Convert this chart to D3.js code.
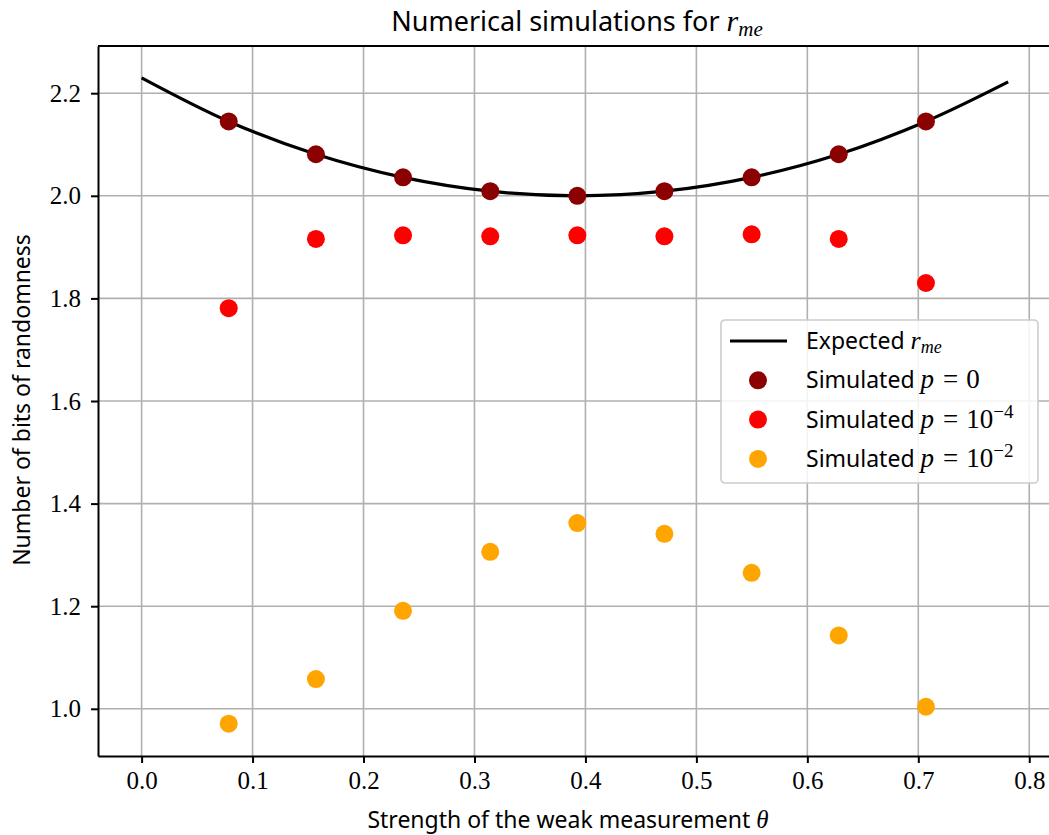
<!DOCTYPE html>
<html>
<head>
<meta charset="utf-8">
<script src="https://cdn.jsdelivr.net/npm/d3@7"></script>
<style>
  body { margin: 0; background: #fff; }
  .sans { font-family: "Noto Sans", "DejaVu Sans", sans-serif; }
  .serif { font-family: "Liberation Serif", "DejaVu Serif", serif; }
</style>
</head>
<body>
<div id="chart"></div>
<script>
// theta values of the simulations
var thetas = [0.0785, 0.1571, 0.2356, 0.3142, 0.3927, 0.4712, 0.5498, 0.6283, 0.7069]

// expected r_me curve
var curveTheta = [0.0, 0.0785, 0.1571, 0.2356, 0.3142, 0.3927, 0.4712, 0.5498, 0.6283, 0.7069, 0.781]
var curveValue = [2.230, 2.145, 2.081, 2.036, 2.009, 2.000, 2.009, 2.036, 2.081, 2.145, 2.222]

var simP0 = [2.145, 2.081, 2.036, 2.009, 2.000, 2.009, 2.036, 2.081, 2.145]
var simP4 = [1.781, 1.916, 1.923, 1.921, 1.923, 1.921, 1.925, 1.916, 1.830]
var simP2 = [0.971, 1.058, 1.191, 1.306, 1.362, 1.341, 1.265, 1.143, 1.004]

var xTicks = [0.0, 0.1, 0.2, 0.3, 0.4, 0.5, 0.6, 0.7, 0.8]
var yTicks = [1.0, 1.2, 1.4, 1.6, 1.8, 2.0, 2.2]

var width = 1049, height = 835
var margin = { left: 98, right: -2, top: 46, bottom: 79 }

var svg = d3.select("#chart").append("svg").attr("width", width).attr("height", height)

var x = d3.scaleLinear().domain([-0.0393, 0.8196]).range([margin.left, width - margin.right])
var y = d3.scaleLinear().domain([0.908, 2.292]).range([height - margin.bottom, margin.top])

// grid
svg.append("g").selectAll("line").data(xTicks).enter().append("line")
  .attr("x1", function (d) { return x(d) }).attr("x2", function (d) { return x(d) })
  .attr("y1", y.range()[0]).attr("y2", y.range()[1])
  .style("stroke", "#b0b0b0").style("stroke-width", 1.6)
svg.append("g").selectAll("line").data(yTicks).enter().append("line")
  .attr("x1", x.range()[0]).attr("x2", x.range()[1])
  .attr("y1", function (d) { return y(d) }).attr("y2", function (d) { return y(d) })
  .style("stroke", "#b0b0b0").style("stroke-width", 1.6)

// axes
var xAxis = svg.append("g").attr("transform", "translate(0," + y.range()[0] + ")")
  .call(d3.axisBottom(x).tickValues(xTicks).tickFormat(d3.format(".1f")).tickSizeInner(7).tickSizeOuter(0).tickPadding(8))
var yAxis = svg.append("g").attr("transform", "translate(" + x.range()[0] + ",0)")
  .call(d3.axisLeft(y).tickValues(yTicks).tickFormat(d3.format(".1f")).tickSizeInner(7).tickSizeOuter(0).tickPadding(10))
;[xAxis, yAxis].forEach(function (a) {
  a.selectAll("path").style("stroke", "#000").style("stroke-width", 2)
  a.selectAll("line").style("stroke", "#000").style("stroke-width", 2)
  a.selectAll("text").attr("class", "serif").style("font-size", "25px").style("fill", "#000")
})
// top spine
svg.append("line")
  .attr("x1", x.range()[0]).attr("x2", x.range()[1])
  .attr("y1", y.range()[1]).attr("y2", y.range()[1])
  .style("stroke", "#000").style("stroke-width", 2)

// expected curve
var line = d3.line()
  .x(function (d, i) { return x(curveTheta[i]) })
  .y(function (d) { return y(d) })
  .curve(d3.curveCatmullRom)
svg.append("path").datum(curveValue).attr("d", line)
  .style("fill", "none").style("stroke", "#000").style("stroke-width", 3.2)

// simulated points
var series = [
  { values: simP0, color: "#8b0000" },
  { values: simP4, color: "#ff0000" },
  { values: simP2, color: "#ffa500" }
]
series.forEach(function (s) {
  svg.append("g").selectAll("circle").data(s.values).enter().append("circle")
    .attr("cx", function (d, i) { return x(thetas[i]) })
    .attr("cy", function (d) { return y(d) })
    .attr("r", 9)
    .style("fill", s.color)
})

// title
var title = svg.append("text").attr("class", "sans")
  .attr("x", 577).attr("y", 31).attr("text-anchor", "middle")
  .style("font-size", "27px")
title.append("tspan").text("Numerical simulations for ")
title.append("tspan").attr("class", "serif").style("font-style", "italic").style("font-size", "30px").text("r")
title.append("tspan").attr("class", "serif").style("font-style", "italic").style("font-size", "21px").attr("dy", 5).text("me")

// axis labels
var xl = svg.append("text").attr("class", "sans")
  .attr("x", 568).attr("y", 828).attr("text-anchor", "middle")
  .style("font-size", "23px")
xl.append("tspan").text("Strength of the weak measurement ")
xl.append("tspan").attr("class", "serif").style("font-style", "italic").style("font-size", "25px").text("θ")

svg.append("text").attr("class", "sans")
  .attr("transform", "translate(30," + 400 + ") rotate(-90)")
  .attr("text-anchor", "middle")
  .style("font-size", "23px")
  .text("Number of bits of randomness")

// legend
var legend = svg.append("g").attr("transform", "translate(721,320)")
legend.append("rect").attr("width", 317).attr("height", 163).attr("rx", 4)
  .style("fill", "#fff").style("fill-opacity", 0.85).style("stroke", "#cccccc").style("stroke-width", 1.6)

var entries = [
  { kind: "line", color: "#000", label: "Expected ", math: "r", sub: "me" },
  { kind: "dot", color: "#8b0000", label: "Simulated ", math: "p = 0" },
  { kind: "dot", color: "#ff0000", label: "Simulated ", math: "p = 10", sup: "−4" },
  { kind: "dot", color: "#ffa500", label: "Simulated ", math: "p = 10", sup: "−2" }
]
entries.forEach(function (e, i) {
  var cy = 21 + i * 39.3
  if (e.kind === "line") {
    legend.append("line").attr("x1", 9).attr("x2", 66).attr("y1", cy).attr("y2", cy)
      .style("stroke", e.color).style("stroke-width", 3.2)
  } else {
    legend.append("circle").attr("cx", 37).attr("cy", cy).attr("r", 9).style("fill", e.color)
  }
  var t = legend.append("text").attr("class", "sans").attr("x", 85).attr("y", cy + 8)
    .style("font-size", "23px")
  t.append("tspan").text(e.label)
  if (e.sub) {
    t.append("tspan").attr("class", "serif").style("font-style", "italic").style("font-size", "26px").text(e.math)
    t.append("tspan").attr("class", "serif").style("font-style", "italic").style("font-size", "18px").attr("dy", 4).text(e.sub)
  } else {
    var parts = e.math.split(" = ")
    t.append("tspan").attr("class", "serif").style("font-style", "italic").style("font-size", "27px").text(parts[0])
    t.append("tspan").attr("class", "serif").style("font-size", "27px").attr("dx", 9).text("=")
    t.append("tspan").attr("class", "serif").style("font-size", "27px").attr("dx", 8).text(parts[1])
    if (e.sup) {
      t.append("tspan").attr("class", "serif").style("font-size", "19px").attr("dy", -10).text(e.sup)
    }
  }
})
</script>
</body>
</html>
